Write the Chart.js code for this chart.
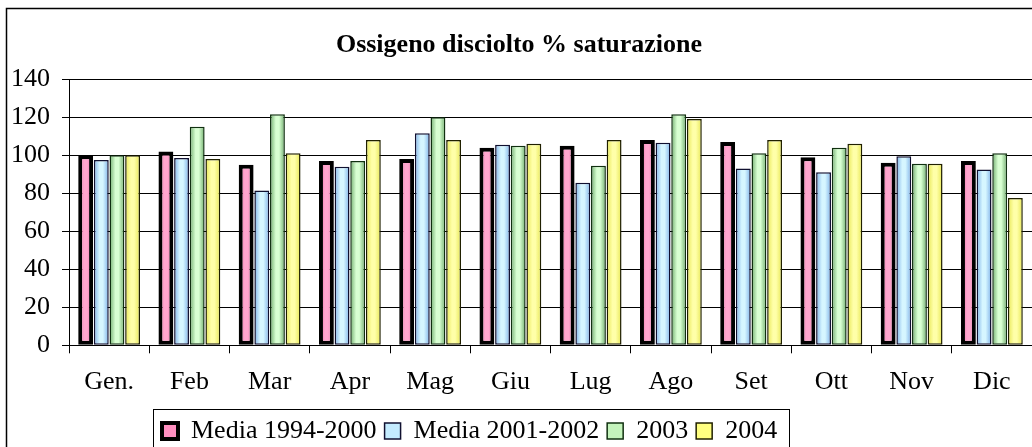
<!DOCTYPE html>
<html>
<head>
<meta charset="utf-8">
<title>Ossigeno disciolto % saturazione</title>
<script src="https://cdn.jsdelivr.net/npm/chart.js@4.4.1/dist/chart.umd.min.js"></script>
<style>
  html, body { margin: 0; padding: 0; background: #fff; overflow: hidden; }
  canvas { display: block; }
</style>
</head>
<body>
<canvas id="chart" width="1032" height="454"></canvas>
<script>
// dati
const mesi = ['Gen.', 'Feb', 'Mar', 'Apr', 'Mag', 'Giu', 'Lug', 'Ago', 'Set', 'Ott', 'Nov', 'Dic'];
const media9400 = [100, 102, 95, 97, 98, 104, 105, 108, 107, 99, 96, 97];
const media0102 = [97.5, 98.5, 81.5, 94, 111.5, 105.5, 85.5, 106.5, 93, 91, 99.5, 92.5];
const anno2003 = [100, 115, 121.5, 97, 120, 105, 94.5, 121.5, 101, 104, 95.5, 101];
const anno2004 = [100, 98, 101, 108, 108, 106, 108, 119, 108, 106, 95.5, 77.5];
const yTicks = [0, 20, 40, 60, 80, 100, 120, 140];

const serif = "'Liberation Serif', 'Times New Roman', serif";
const catPct = 0.78;
const barPct = 0.95;

// sfumatura orizzontale stile Excel per ogni barra
function shade(flat, edge, light) {
  return function(ctx) {
    if (ctx.type !== 'data') return flat;
    const x = ctx.chart.scales.x;
    if (!x || !isFinite(x.width) || x.width <= 0) return flat;
    const catW = x.width / mesi.length;
    const group = catW * catPct;
    const barW = group / 4;
    const left = x.getPixelForValue(ctx.dataIndex) - group / 2 + ctx.datasetIndex * barW;
    const g = ctx.chart.ctx.createLinearGradient(left, 0, left + barW, 0);
    g.addColorStop(0, edge);
    g.addColorStop(0.4, light);
    g.addColorStop(0.6, light);
    g.addColorStop(1, edge);
    return g;
  };
}

const flatColors = ['#ff8fc0', '#c4ecff', '#c4f4bc', '#ffff80'];

const framePlugin = {
  id: 'frame',
  beforeDraw(chart) {
    const c = chart.ctx;
    c.save();
    c.fillStyle = '#fff';
    c.fillRect(0, 0, chart.width, chart.height);
    c.strokeStyle = '#000';
    c.lineWidth = 1.5;
    c.strokeRect(6.5, 8.5, 2000, 2000);
    c.restore();
  },
  afterLayout(chart) {
    // la legenda nell'originale non è centrata: parte da x=162
    const lg = chart.legend;
    if (!lg || !lg.lineWidths) return;
    const pad = lg.options.labels.padding;
    const lw = lg.lineWidths[0];
    const start = ((lg.left + pad) + (lg.right - lw)) / 2;
    const shift = 162 - start;
    lg.left += shift;
    lg.right += shift;
  },
  afterDraw(chart) {
    const hb = chart.legend && chart.legend.legendHitBoxes;
    if (!hb || !hb.length) return;
    const last = hb[hb.length - 1];
    const c = chart.ctx;
    c.save();
    c.strokeStyle = '#000';
    c.lineWidth = 1;
    const l = Math.round(hb[0].left) - 8.5;
    const r = Math.round(last.left + last.width) + 12.5;
    const t = Math.round(hb[0].top + hb[0].height / 2) - 21.5;
    c.strokeRect(l, t, r - l, 200);
    c.restore();
  }
};

new Chart(document.getElementById('chart'), {
  type: 'bar',
  data: {
    labels: mesi,
    datasets: [
      {
        label: 'Media 1994-2000',
        data: media9400,
        backgroundColor: shade(flatColors[0], '#e4609a', '#ffa6ce'),
        borderColor: '#000',
        borderWidth: 4
      },
      {
        label: 'Media 2001-2002',
        data: media0102,
        backgroundColor: shade(flatColors[1], '#7aaee8', '#d6f6ff'),
        borderColor: '#101030',
        borderWidth: 1.5
      },
      {
        label: '2003',
        data: anno2003,
        backgroundColor: shade(flatColors[2], '#6aa868', '#d8ffd2'),
        borderColor: '#103010',
        borderWidth: 1.5
      },
      {
        label: '2004',
        data: anno2004,
        backgroundColor: shade(flatColors[3], '#e6e650', '#ffffa8'),
        borderColor: '#202000',
        borderWidth: 1.5
      }
    ]
  },
  options: {
    responsive: false,
    animation: false,
    events: [],
    layout: { padding: { left: 6, right: 0, top: 0, bottom: 0 } },
    datasets: {
      bar: { categoryPercentage: catPct, barPercentage: barPct, borderSkipped: false }
    },
    plugins: {
      title: {
        display: true,
        text: 'Ossigeno disciolto % saturazione',
        color: '#000',
        font: { family: serif, size: 26, weight: 'bold', lineHeight: 1.2 },
        padding: { top: 30, bottom: 18 }
      },
      legend: {
        position: 'bottom',
        labels: {
          color: '#000',
          font: { family: serif, size: 26, lineHeight: 1.2 },
          boxWidth: 16,
          boxHeight: 16,
          padding: 8,
          generateLabels(chart) {
            const items = Chart.defaults.plugins.legend.labels.generateLabels(chart);
            items.forEach((it, i) => { it.fillStyle = flatColors[i]; });
            return items;
          }
        }
      },
      tooltip: { enabled: false }
    },
    scales: {
      x: {
        afterFit(scale) { scale.height = 64.7; },
        grid: {
          offset: true,
          drawOnChartArea: false,
          drawTicks: true,
          tickLength: 8,
          color: '#000',
          lineWidth: 1
        },
        border: { color: '#000', width: 1 },
        ticks: {
          color: '#000',
          padding: 13,
          font: { family: serif, size: 26 }
        }
      },
      y: {
        min: 0,
        max: 140,
        afterFit(scale) { scale.width = 63; },
        afterBuildTicks(scale) { scale.ticks = yTicks.map(v => ({ value: v })); },
        grid: {
          color: '#000',
          lineWidth: 1,
          drawTicks: true,
          tickLength: 7
        },
        border: { color: '#000', width: 1 },
        ticks: {
          color: '#000',
          padding: 12,
          font: { family: serif, size: 26 }
        }
      }
    }
  },
  plugins: [framePlugin]
});
</script>
</body>
</html>
